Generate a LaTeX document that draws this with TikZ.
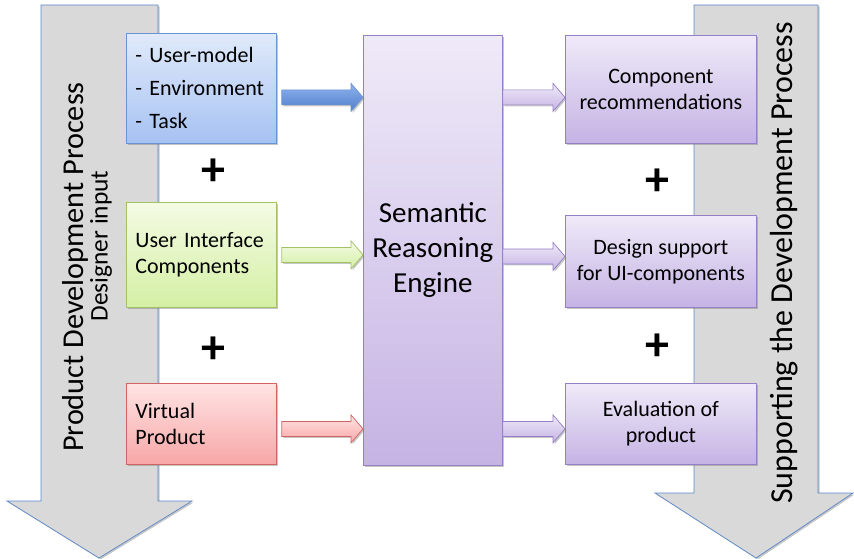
\documentclass[tikz,border=0pt]{standalone}
\usepackage{fontspec}
\setmainfont{Carlito}
\usetikzlibrary{shadows,calc}

% colours of the boxes and block arrows
\definecolor{procgray}{HTML}{D9D9D9}
\definecolor{procline}{HTML}{5B87C8}
\definecolor{bluetop}{HTML}{E0EAFA}
\definecolor{bluebot}{HTML}{A6C2F2}
\definecolor{blueline}{HTML}{6C92D0}
\definecolor{arrowtop}{HTML}{8EB2EC}
\definecolor{arrowbot}{HTML}{4F7FCC}
\definecolor{greentop}{HTML}{F4FBE4}
\definecolor{greenbot}{HTML}{D4EFA4}
\definecolor{greenline}{HTML}{A3C266}
\definecolor{redtop}{HTML}{FFE4E4}
\definecolor{redbot}{HTML}{F7A6A6}
\definecolor{redline}{HTML}{D06464}
\definecolor{purpletop}{HTML}{EFEAF8}
\definecolor{purplebot}{HTML}{C5B3E4}
\definecolor{purpleline}{HTML}{9480C4}

% fat block arrow from #2 to the x of #3, style #1
\newcommand{\fatarrow}[3]{%
  \draw[#1] let \p1=(#2), \p2=(#3) in
    (\x1,\y1+7.5pt) -- (\x2-12pt,\y1+7.5pt) -- (\x2-12pt,\y1+14pt) -- (\x2,\y1)
    -- (\x2-12pt,\y1-14pt) -- (\x2-12pt,\y1-7.5pt) -- (\x1,\y1-7.5pt) -- cycle;}

\begin{document}
\begin{tikzpicture}[x=1pt,y=-1pt,
    shade/.style={drop shadow={shadow xshift=1.5pt,shadow yshift=-1.5pt,opacity=.45,fill=gray}},
    process/.style={draw=procline,line width=.7pt,fill=procgray,shade},
    infobox/.style={rectangle,draw,line width=.8pt,anchor=north west,inner xsep=9pt,
      font=\fontsize{22}{26}\selectfont,shade},
    leftbox/.style={infobox,align=left,text width=#1},
    rightbox/.style={infobox,align=center,minimum width=191pt,top color=purpletop,
      bottom color=purplebot,draw=purpleline},
    plus/.style={font=\fontsize{48}{48}\selectfont\bfseries},
    bluearrow/.style={draw=blueline,top color=arrowtop,bottom color=arrowbot,line width=.7pt,shade},
    greenarrow/.style={draw=greenline,top color=greentop,bottom color=greenbot,line width=.7pt,shade},
    redarrow/.style={draw=redline,top color=redtop,bottom color=redbot,line width=.7pt,shade},
    purplearrow/.style={draw=purpleline,top color=purpletop,bottom color=purplebot,line width=.7pt,shade}]

  \useasboundingbox (0,0) rectangle (854,559);

  % the two big process arrows
  \draw[process] (41,5) -- (158,5) -- (158,501) -- (192,501) -- (99,558) -- (7,501)
    -- (41,501) -- cycle;
  \draw[process] (694,5) -- (818,5) -- (818,493) -- (853,493) -- (756,558) -- (655,493)
    -- (694,493) -- cycle;

  \node[rotate=90,font=\fontsize{30.3}{31}\selectfont] (pdp) at (75,267) {Product Development Process};
  \node[rotate=90,font=\fontsize{25.4}{26}\selectfont] (din) at (101,246) {Designer input};
  \node[rotate=90,font=\fontsize{32}{32}\selectfont] (sdp) at (784,263) {Supporting the Development Process};

  % inputs
  \node[leftbox=132pt,minimum height=110pt,top color=bluetop,bottom color=bluebot,draw=blueline]
    (usr) at (126,33) {- User-model\\[7pt]- Environment\\[7pt]- Task};
  \node[leftbox=132pt,minimum height=105pt,top color=greentop,bottom color=greenbot,draw=greenline]
    (uic) at (126,202) {User Interface\\Components};
  \node[leftbox=132pt,minimum height=81pt,top color=redtop,bottom color=redbot,draw=redline]
    (vp) at (126,383) {Virtual\\Product};

  \node[plus] (p1) at (213,172) {+};
  \node[plus] (p2) at (213,350) {+};

  % reasoning engine
  \node[infobox,minimum width=137pt,minimum height=430pt,align=center,top color=purpletop,
    bottom color=purplebot,draw=purpleline,font=\fontsize{29}{35}\selectfont]
    (sre) at (363,35) {Semantic\\Reasoning\\Engine};

  % outputs
  \node[rightbox,minimum height=108pt] (rec) at (565,35) {Component\\recommendations};
  \node[rightbox,minimum height=92pt] (des) at (565,215) {Design support\\for UI-components};
  \node[rightbox,minimum height=81pt] (eva) at (565,383) {Evaluation of\\product};

  \node[plus] (p3) at (657,182) {+};
  \node[plus] (p4) at (657,347) {+};

  \fatarrow{bluearrow}{$(usr.east)+(5,9)$}{sre.west}
  \fatarrow{greenarrow}{$(uic.east)+(5,0)$}{sre.west}
  \fatarrow{redarrow}{$(vp.east)+(5,5)$}{sre.west}

  \fatarrow{purplearrow}{$(rec.west -| sre.east)+(0,8)$}{rec.west}
  \fatarrow{purplearrow}{$(des.west -| sre.east)+(0,-5)$}{des.west}
  \fatarrow{purplearrow}{$(eva.west -| sre.east)+(0,5)$}{eva.west}
\end{tikzpicture}
\end{document}
